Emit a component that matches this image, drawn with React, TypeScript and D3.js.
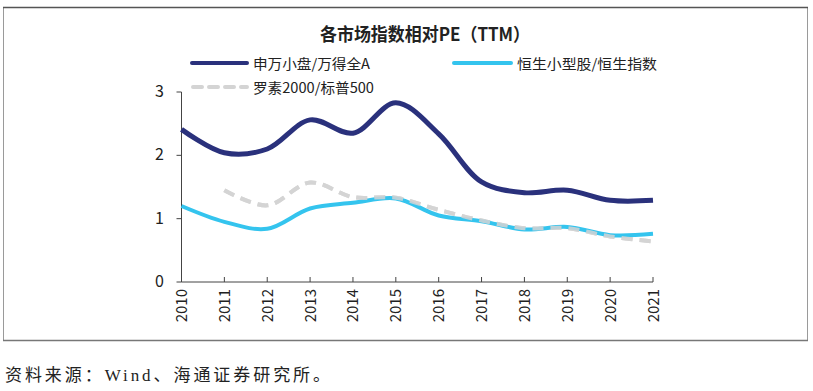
import React from "react";
import * as d3 from "d3";

const years = [2010, 2011, 2012, 2013, 2014, 2015, 2016, 2017, 2018, 2019, 2020, 2021];
const swSmall = [2.41, 2.04, 2.1, 2.56, 2.35, 2.83, 2.34, 1.58, 1.41, 1.45, 1.29, 1.29];
const hsSmall = [1.2, 0.95, 0.84, 1.16, 1.25, 1.32, 1.05, 0.96, 0.83, 0.87, 0.74, 0.76];
const russell: (number | null)[] = [null, 1.45, 1.21, 1.57, 1.34, 1.33, 1.14, 0.97, 0.85, 0.85, 0.72, 0.64];
const yTicks = [0, 1, 2, 3];

const seriesNames = ["申万小盘/万得全A", "恒生小型股/恒生指数", "罗素2000/标普500"];
const title = "各市场指数相对PE（TTM）";
const source = "资料来源：Wind、海通证券研究所。";

const NAVY = "#2a317c";
const BLUE = "#34c4ee";
const GRAY = "#d4d4d4";
const FONT = "'Noto Sans CJK SC', 'Noto Sans', sans-serif";

export default function App() {
  const W = 813, H = 391;
  const x = d3.scaleLinear().domain([2010, 2021]).range([181.5, 653]);
  const y = d3.scaleLinear().domain([0, 3]).range([282, 92]);
  const line = d3
    .line<[number, number | null]>()
    .defined((d) => d[1] != null)
    .x((d) => x(d[0]))
    .y((d) => y(d[1] as number))
    .curve(d3.curveCatmullRom.alpha(0.5));

  const p1 = line(years.map((yr, i) => [yr, swSmall[i]]))!;
  const p2 = line(years.map((yr, i) => [yr, hsSmall[i]]))!;
  const p3 = line(years.map((yr, i) => [yr, russell[i]]))!;

  return (
    <svg width={W} height={H} style={{ position: "absolute", left: 0, top: 0, background: "#fff" }}>
      <rect x={3.5} y={7.5} width={804} height={333} fill="#fff" stroke="#9a9a9a" strokeWidth={1} />
      <line x1={3} x2={808} y1={7.5} y2={7.5} stroke="#555" strokeWidth={1.5} />
      <line x1={3} x2={808} y1={340.5} y2={340.5} stroke="#777" strokeWidth={1.5} />

      <text x={425} y={41} textAnchor="middle" fontFamily={FONT} fontWeight="bold" fontSize={18} fill="#222"
        textLength={210} lengthAdjust="spacingAndGlyphs">
        {title}
      </text>

      {/* legend */}
      <line x1={192} x2={247} y1={63} y2={63} stroke={NAVY} strokeWidth={4} strokeLinecap="round" />
      <text x={253} y={68.5} fontFamily={FONT} fontSize={14} fill="#222" textLength={117} lengthAdjust="spacingAndGlyphs">{seriesNames[0]}</text>
      <line x1={454} x2={511} y1={63} y2={63} stroke={BLUE} strokeWidth={4} strokeLinecap="round" />
      <text x={517} y={68.5} fontFamily={FONT} fontSize={14} fill="#222" textLength={140} lengthAdjust="spacingAndGlyphs">{seriesNames[1]}</text>
      <line x1={193} x2={247} y1={87} y2={87} stroke={GRAY} strokeWidth={4} strokeLinecap="round" strokeDasharray="9 7" />
      <text x={253} y={92.5} fontFamily={FONT} fontSize={14} fill="#222" textLength={121} lengthAdjust="spacingAndGlyphs">{seriesNames[2]}</text>

      {/* axes */}
      <line x1={181.5} x2={181.5} y1={92} y2={282} stroke="#444" strokeWidth={1} />
      <line x1={181.5} x2={653} y1={282} y2={282} stroke="#444" strokeWidth={1} />
      {yTicks.map((t) => (
        <g key={t}>
          <line x1={176.5} x2={181.5} y1={y(t)} y2={y(t)} stroke="#444" strokeWidth={1} />
          <text x={164} y={y(t) + 5} textAnchor="end" fontFamily={FONT} fontSize={16} fill="#222">{t}</text>
        </g>
      ))}
      {years.map((yr) => (
        <g key={yr}>
          <line x1={x(yr)} x2={x(yr)} y1={277} y2={282} stroke="#444" strokeWidth={1} />
          <text
            transform={`translate(${x(yr) + 5.5},${289}) rotate(-90)`}
            textAnchor="end"
            fontFamily={FONT}
            fontSize={15}
            fill="#222"
          >
            {yr}
          </text>
        </g>
      ))}

      {/* series */}
      <path d={p3} fill="none" stroke={GRAY} strokeWidth={4} strokeDasharray="11 7" />
      <path d={p2} fill="none" stroke={BLUE} strokeWidth={4} />
      <path d={p1} fill="none" stroke={NAVY} strokeWidth={5} />
      <path d={p3} fill="none" stroke={GRAY} strokeWidth={4} strokeDasharray="11 7" opacity={0.85} />

      <text x={5} y={381} fontFamily="'Liberation Serif', 'Noto Sans CJK SC', serif" fontSize={17} fill="#222" textLength={325} lengthAdjust="spacing">
        {source}
      </text>
    </svg>
  );
}
